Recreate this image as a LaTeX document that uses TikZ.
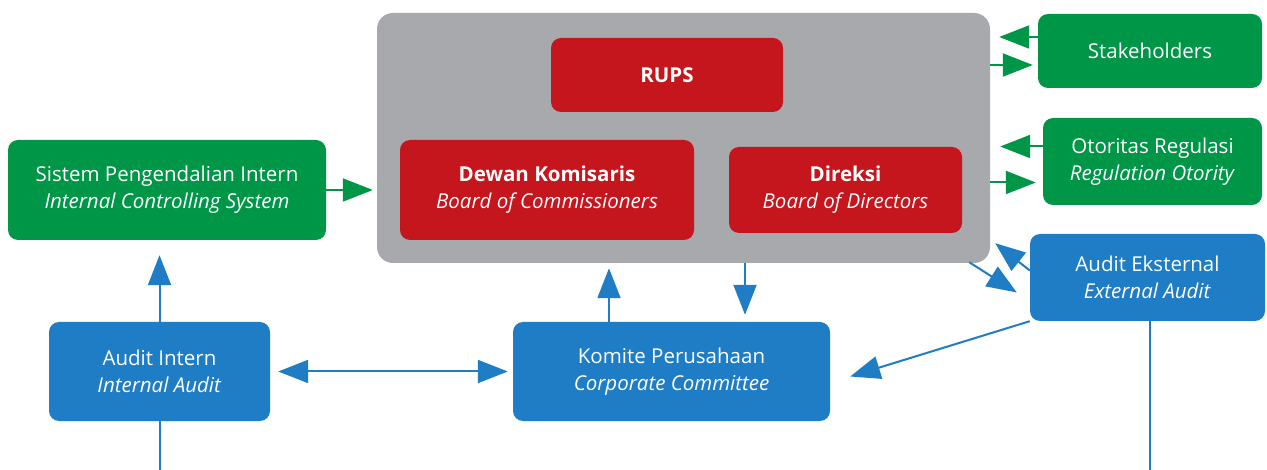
\documentclass[tikz,border=0pt]{standalone}
\usepackage{fontspec}
\setmainfont{Open Sans}
\usepackage{tikz}
\usetikzlibrary{positioning}
\usetikzlibrary{arrows.meta}

\definecolor{gcgreen}{RGB}{0,150,72}
\definecolor{gcred}{RGB}{196,22,28}
\definecolor{gcgray}{RGB}{167,169,172}
\definecolor{gcblue}{RGB}{30,125,197}

\tikzset{
  box/.style={rectangle, rounded corners=10pt, text=white, align=center,
    inner sep=0pt, font=\fontsize{20.5}{27}\selectfont},
  greenbox/.style={box, fill=gcgreen},
  redbox/.style={box, fill=gcred},
  bluebox/.style={box, fill=gcblue},
  graybox/.style={rectangle, rounded corners=16pt, fill=gcgray},
  garrow/.style={line width=2pt, draw=gcgreen, -{Triangle[length=30pt,width=23pt]}},
  barrow/.style={line width=2pt, draw=gcblue, -{Triangle[length=30pt,width=23pt]}},
  bline/.style={line width=2pt, draw=gcblue},
}

\begin{document}
\begin{tikzpicture}[x=1pt, y=-1pt]
                \useasboundingbox (0,0) rectangle (1267,470);

                % Nodes
                \node at (683.5,138) (core) [graybox, minimum width=613pt, minimum height=250pt] {};
                \node at (667,75) (rups) [redbox, minimum width=232pt, minimum height=74pt] {\textbf{RUPS}};
                \node at (547,190) (dekom) [redbox, minimum width=294pt, minimum height=100pt] {\textbf{Dewan Komisaris}\\\textit{Board of Commissioners}};
                \node at (845.5,190) (direksi) [redbox, minimum width=233pt, minimum height=86pt] {\textbf{Direksi}\\\textit{Board of Directors}};
                \node at (1150,51) (stake) [greenbox, minimum width=224pt, minimum height=74pt] {Stakeholders};
                \node at (1152.5,161.5) (regulator) [greenbox, minimum width=219pt, minimum height=87pt] {Otoritas Regulasi\\\textit{Regulation Otority}};
                \node at (1147.5,277.5) (extaudit) [bluebox, minimum width=235pt, minimum height=87pt] {Audit Eksternal\\\textit{External Audit}};
                \node at (167,190) (spi) [greenbox, minimum width=318pt, minimum height=100pt] {Sistem Pengendalian Intern\\\textit{Internal Controlling System}};
                \node at (159.5,371.5) (intaudit) [bluebox, minimum width=221pt, minimum height=99pt] {Audit Intern\\\textit{Internal Audit}};
                \node at (671.5,371.5) (komite) [bluebox, minimum width=317pt, minimum height=99pt] {Komite Perusahaan\\\textit{Corporate Committee}};
                \coordinate (intaudit-out) at (159.5,470);
                \coordinate (extaudit-out) at (1150,470);

                % Arrows
                \draw[garrow] (spi) -- (spi -| core.west) [shorten >=4pt];
                \draw[garrow] ([yshift=14pt]stake.west) -- ([yshift=14pt]stake.west -| core.east) [shorten >=9pt];
                \draw[garrow] ([yshift=-14pt]stake.west -| core.east) -- ([yshift=-14pt]stake.west) [shorten >=5pt];
                \draw[garrow] ([yshift=15pt]regulator.west) -- ([yshift=15pt]regulator.west -| core.east) [shorten >=10pt];
                \draw[garrow] ([yshift=-21pt]regulator.west -| core.east) -- ([yshift=-21pt]regulator.west) [shorten >=7pt];
                \draw[barrow] ([xshift=-21pt,yshift=1pt]core.south east) -- ([xshift=-13pt,yshift=-15pt]extaudit.west);
                \draw[barrow] ([yshift=7pt]extaudit.west) -- ([xshift=5pt,yshift=20pt]core.south east);
                \draw[barrow] (extaudit.south west) -- ([xshift=20pt,yshift=-5pt]komite.east);
                \draw[bline] (extaudit.south -| extaudit-out) -- (extaudit-out);
                \draw[barrow] (intaudit.north) -- (intaudit.north |- spi.south) [shorten >=15pt];
                \draw[bline] (intaudit.south) -- (intaudit-out);
                \draw[barrow, {Triangle[length=30pt,width=23pt]}-{Triangle[length=30pt,width=23pt]}] ([xshift=8pt]intaudit.east) -- ([xshift=-5pt]komite.west);
                \draw[barrow] ([xshift=-62.5pt]komite.north) -- ([xshift=-62.5pt]komite.north |- core.south) [shorten >=5pt];
                \draw[barrow] ([xshift=73.5pt]komite.north |- core.south) -- ([xshift=73.5pt]komite.north) [shorten >=7pt];

\end{tikzpicture}
\end{document}
